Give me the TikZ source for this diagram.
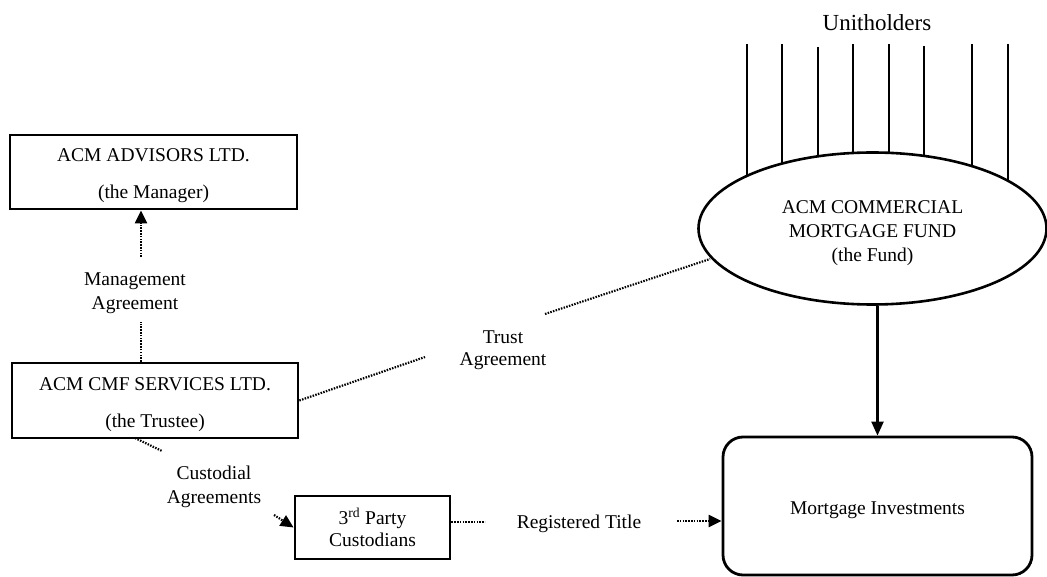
\documentclass[tikz,border=0pt]{standalone}
\usepackage{fontspec}
\setmainfont{Liberation Serif}
\usetikzlibrary{arrows.meta,shapes.geometric}
\tikzset{
  box/.style={draw, line width=2.8pt, rectangle, align=center, inner sep=0pt},
  txt/.style={align=center, inner sep=0pt, font=\fontsize{19.5}{23}\selectfont},
  dotline/.style={line width=2.2pt, dash pattern=on 1.5pt off 1.3pt},
  dotarrow/.style={dotline, -{Triangle[length=13pt,width=12pt]}},
  solidarrow/.style={line width=2.2pt, -{Triangle[length=14pt,width=12pt]}},
  holder/.style={line width=2.4pt}
}
\begin{document}
\begin{tikzpicture}[x=1pt,y=-1pt]
\useasboundingbox (0,0) rectangle (1047,577);
% Unitholders
\node[txt, font=\fontsize{23}{26}\selectfont] (uh) at (877,23) {Unitholders};
\foreach \x/\t in {747/44,782/44,818/47,853/44,889/44,924/46,972/44,1008/44}
  \draw[holder] (\x,\t) -- (\x,228);
% Fund
\node[draw, ellipse, line width=2.6pt, fill=white, minimum width=348pt, minimum height=152pt, inner sep=0pt,
      align=center, text height=71pt, text depth=4.3pt, font=\fontsize{19.5}{24}\selectfont] (fund) at (872.5,228.5)
  {ACM COMMERCIAL\\MORTGAGE FUND\\(the Fund)};
% Manager
\node[box, minimum width=287pt, minimum height=74pt, text height=58pt, text depth=4.3pt,
      font=\fontsize{19.5}{37}\selectfont] (mgr) at (153.5,172)
  {ACM ADVISORS LTD.\\(the Manager)};
% Trustee
\node[box, minimum width=286pt, minimum height=75pt, text height=58pt, text depth=4.3pt,
      font=\fontsize{19.5}{37}\selectfont] (trustee) at (155,400.5)
  {ACM CMF SERVICES LTD.\\(the Trustee)};
% Custodians
\node[box, minimum width=155pt, minimum height=63pt, font=\fontsize{19.5}{22}\selectfont] (cust) at (372.5,527.5)
  {3\textsuperscript{rd} Party\\Custodians};
% Mortgage investments
\node[box, rounded corners=20pt, minimum width=309pt, minimum height=138pt, text height=20.9pt, text depth=4.3pt,
      font=\fontsize{19.5}{23}\selectfont] (mort) at (877.5,506)
  {Mortgage Investments};
% Labels
\node[txt, font=\fontsize{19.5}{24}\selectfont] (mlab) at (135,293) {Management\\Agreement};
\node[txt, font=\fontsize{19.5}{22}\selectfont] (tlab) at (503,350) {Trust\\Agreement};
\node[txt, font=\fontsize{19.5}{24}\selectfont] (clab) at (214,487) {Custodial\\Agreements};
\node[txt] (rlab) at (579,524) {Registered Title};
% Management agreement connector
\coordinate (m1) at (141,322);
\coordinate (m2) at (141,257);
\draw[dotline] (trustee.north -| m1) -- (m1);
\draw[dotarrow] (m2) -- (mgr.south -| m2);
% Trust agreement connector
\coordinate (t1) at (425,357);
\coordinate (t2) at (545,314);
\coordinate (t3) at (710,259);
\draw[dotline] (trustee.east) -- (t1);
\draw[dotline] (t2) -- (t3);
% Custodial agreements connector
\coordinate (c0) at (135,438);
\coordinate (c1) at (162,451);
\coordinate (c2) at (274,515);
\draw[dotline] (c0) -- (c1);
\draw[dotarrow] (c2) -- (cust.west);
% Registered title connector
\coordinate (r1) at (485,522);
\coordinate (r2) at (677,521);
\draw[dotline] (cust.east |- r1) -- (r1);
\draw[dotarrow] (r2) -- (mort.west |- r2);
% Fund to investments
\draw[solidarrow] (fund.south -| mort.north) -- (mort.north);
\end{tikzpicture}
\end{document}
